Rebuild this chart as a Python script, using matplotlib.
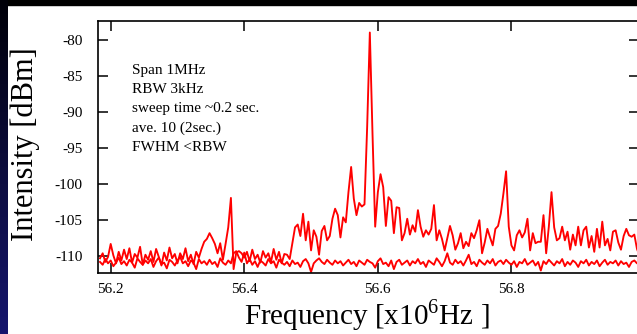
import numpy as np
import matplotlib
matplotlib.use("Agg")
import matplotlib.pyplot as plt
from matplotlib.patches import Rectangle
from matplotlib.colors import LinearSegmentedColormap

plt.rcParams['font.family'] = ['Liberation Serif', 'DejaVu Serif']
plt.rcParams['mathtext.fontset'] = 'custom'
plt.rcParams['mathtext.rm'] = 'Liberation Serif'
plt.rcParams['axes.unicode_minus'] = False

# spectrum traces [dBm], sampled every 4 kHz from 56.184 MHz
trace_avg = [
    -110.3, -109.6, -110.8, -110.1, -108.3, -109.9, -111.0, -109.4, -110.6, -109.1,
    -110.4, -108.9, -110.9, -109.7, -110.2, -108.7, -111.2, -109.8, -110.5, -109.3,
    -110.8, -109.0, -110.1, -111.3, -109.5, -110.6, -108.8, -110.3, -109.7, -111.0,
    -109.6, -110.4, -108.9, -110.7, -109.8, -111.1, -109.4, -110.2, -109.0, -108.0,
    -107.6, -106.8, -107.5, -108.3, -109.6, -108.2, -110.5, -108.3, -106.0, -101.9,
    -111.8, -109.5, -109.3, -109.6, -110.2, -109.4, -110.7, -109.1, -110.4, -109.8,
    -110.9, -109.3, -110.2, -109.6, -110.8, -109.0, -110.5, -109.4, -111.0, -109.7,
    -109.8, -110.4, -108.2, -106.0, -105.6, -107.2, -104.1, -107.8, -105.2, -109.2,
    -106.4, -107.3, -109.8, -106.5, -105.8, -107.8, -107.2, -104.8, -103.4, -104.3,
    -107.4, -104.6, -105.3, -101.1, -97.6, -102.0, -104.3, -102.6, -103.1, -102.8,
    -92.0, -78.9, -93.0, -105.9, -101.1, -98.6, -100.4, -105.8, -101.8, -102.3,
    -106.8, -103.2, -103.3, -107.8, -106.8, -104.8, -107.0, -105.7, -106.6, -103.6,
    -105.9, -107.3, -106.4, -107.0, -106.2, -102.9, -107.8, -106.4, -107.6, -109.2,
    -107.5, -105.8, -107.1, -109.1, -108.2, -106.8, -108.9, -108.0, -108.6, -106.8,
    -107.5, -106.4, -105.0, -109.6, -108.1, -106.2, -107.4, -108.5, -106.2, -105.8,
    -104.1, -101.3, -98.2, -105.9, -108.5, -109.2, -107.1, -106.4, -107.4, -106.7,
    -104.8, -109.2, -106.8, -108.2, -108.0, -108.0, -104.3, -109.6, -105.9, -101.1,
    -106.0, -107.8, -107.5, -105.9, -107.8, -106.6, -109.1, -107.0, -108.5, -105.9,
    -108.5, -106.4, -105.9, -108.8, -107.2, -109.4, -106.2, -108.8, -105.2, -108.5,
    -107.6, -109.2, -106.6, -106.4, -108.1, -109.1, -107.2, -106.2, -107.1, -107.3,
    -107.0, -109.0, -110.0,
]

trace_sweep = [
    -110.8, -111.2, -110.4, -111.0, -110.6, -111.4, -110.9, -110.2, -111.1, -110.7,
    -111.3, -110.5, -110.9, -111.6, -110.3, -110.8, -111.2, -110.6, -111.0, -110.4,
    -111.5, -110.7, -110.2, -111.1, -110.9, -111.7, -110.5, -110.8, -111.3, -110.6,
    -110.1, -111.0, -110.7, -111.4, -110.6, -110.9, -111.8, -110.4, -111.0, -110.7,
    -111.2, -110.5, -111.1, -110.8, -111.5, -110.3, -110.9, -111.2, -110.6, -111.0,
    -109.6, -109.3, -110.2, -110.8, -109.5, -111.0, -110.4, -111.2, -110.7, -111.5,
    -110.6, -110.9, -111.3, -110.4, -111.0, -110.7, -111.6, -110.5, -110.9, -111.2,
    -110.8, -111.4, -110.6, -111.1, -110.9, -111.5, -110.7, -110.4, -111.0, -112.2,
    -111.0, -110.6, -110.3, -110.8, -111.1, -110.5, -110.9, -111.2, -110.6, -111.0,
    -110.7, -111.3, -110.9, -110.5, -111.1, -110.8, -111.4, -110.6, -110.9, -111.2,
    -110.5, -110.8, -111.0, -111.6, -110.7, -110.3, -111.1, -110.9, -111.4, -110.6,
    -111.8, -110.8, -110.5, -111.2, -110.9, -110.6, -111.3, -110.7, -111.0, -110.4,
    -111.1, -110.8, -111.5, -110.6, -110.9, -111.2, -110.3, -110.8, -111.4, -110.7,
    -109.6, -110.9, -111.2, -110.5, -111.0, -110.7, -111.3, -110.6, -109.8, -111.1,
    -110.8, -111.4, -110.5, -110.9, -111.2, -110.6, -111.0, -110.4, -111.3, -110.8,
    -110.6, -111.1, -110.5, -110.9, -111.2, -110.7, -111.5, -110.8, -111.0, -110.4,
    -111.2, -110.9, -110.6, -111.3, -110.8, -112.0, -110.7, -111.1, -110.5, -110.9,
    -111.3, -110.7, -111.0, -110.4, -111.4, -110.8, -111.2, -110.6, -110.9, -111.5,
    -110.7, -111.0, -110.5, -111.3, -110.8, -111.1, -110.6, -111.4, -110.9, -110.5,
    -111.2, -110.8, -111.0, -110.6, -111.3, -110.7, -111.1, -110.9, -111.5, -110.8,
    -110.6, -111.0, -110.7,
]

freq = np.linspace(56.184, 56.992, len(trace_avg))

xticks = [56.2, 56.4, 56.6, 56.8]
yticks = [-80, -85, -90, -95, -100, -105, -110]
notes = ["Span 1MHz", "RBW 3kHz", "sweep time ~0.2 sec.", "ave. 10 (2sec.)", "FWHM <RBW"]

fig = plt.figure(figsize=(6.37, 3.34), dpi=100)
fig.patch.set_facecolor('white')

# slide background bits: black strip on top, dark blue gradient on left
fig.add_artist(Rectangle((0, 1 - 5/334), 1, 5/334, transform=fig.transFigure,
                         color='black', zorder=0))
bar = fig.add_axes([0, 0, 8/637, 1])
grad = np.linspace(0, 1, 256).reshape(-1, 1)
cm = LinearSegmentedColormap.from_list('slide', ['#000008', '#0c0c3c', '#16166e'])
bar.imshow(grad, aspect='auto', cmap=cm, extent=[0, 1, 0, 1])
bar.axis('off')

ax = fig.add_axes([98/637, 1 - 272.7/334, (639 - 98)/637, (272.7 - 21)/334])
ax.plot(freq, trace_sweep, color='#ff0000', lw=1.35)
ax.plot(freq, trace_avg, color='#ff0000', lw=1.35)

ax.set_xlim(56.181, 56.991)
ax.set_ylim(-112.3, -77.3)
ax.set_xticks(xticks)
ax.set_xticklabels(["%.1f" % v for v in xticks])
ax.set_yticks(yticks)
ax.tick_params(direction='in', length=7.5, width=1.1, labelsize=11,
               top=True, right=True)
ax.tick_params(axis='x', pad=7.5)
ax.tick_params(axis='y', pad=11)
for s in ax.spines.values():
    s.set_linewidth(1.2)

for i, t in enumerate(notes):
    ax.text(0.0628, 0.8026 - i * 0.0759, t, transform=ax.transAxes,
            fontsize=11, va='center', ha='left')

fig.text(25/637, 1 - 144/334, "Intensity [dBm]", rotation=90, fontsize=22,
         ha='center', va='center')
fig.text(367/637, 1/334, "Frequency [x10$^{6}$Hz ]", fontsize=21,
         ha='center', va='bottom')

fig.savefig("out.png", dpi=100)
